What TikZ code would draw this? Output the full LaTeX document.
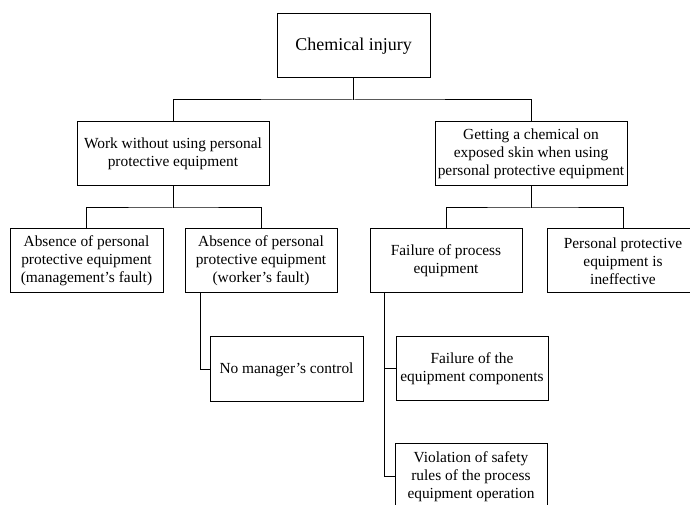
\documentclass[tikz,border=0pt]{standalone}
\usepackage{fontspec}
\setmainfont{Liberation Serif}
\begin{document}
\begin{tikzpicture}[x=1pt,y=1pt,
  box/.style={draw, line width=1pt, inner sep=0pt, align=center,
    font=\fontsize{15.4}{18}\selectfont},
  wire/.style={line width=1pt}]
\clip (0,0) rectangle (690,505);
\fill[white] (0,0) rectangle (690,505);
% boxes (y measured from top: 505 - y)
\node[box, minimum width=153pt, minimum height=64pt, font=\fontsize{18}{21}\selectfont] (top) at (353.5,459) {Chemical injury};
\node[box, minimum width=192pt, minimum height=64pt] (l2l) at (173,351) {Work without using personal\\protective equipment};
\node[box, minimum width=192pt, minimum height=64pt] (l2r) at (531,351) {Getting a chemical on\\exposed skin when using\\personal protective equipment};
\node[box, minimum width=153pt, minimum height=64pt] (l3a) at (86.5,244) {Absence of personal\\protective equipment\\(management’s fault)};
\node[box, minimum width=152pt, minimum height=64pt] (l3b) at (261,244) {Absence of personal\\protective equipment\\(worker’s fault)};
\node[box, minimum width=152pt, minimum height=64pt] (l3c) at (446,244) {Failure of process\\equipment};
\node[box, minimum width=152pt, minimum height=64pt] (l3d) at (623,244) {Personal protective\\equipment is\\ineffective};
\node[box, minimum width=153pt, minimum height=65pt] (nm) at (286.5,135.5) {No manager’s control};
\node[box, minimum width=152pt, minimum height=64pt] (fc) at (472,136) {Failure of the\\equipment components};
\node[box, minimum width=152pt, minimum height=65pt] (vi) at (471,28.5) {Violation of safety\\rules of the process\\equipment operation};
% junctions
\coordinate (j1) at (353.5,405);
\coordinate (j2) at (173,297);
\coordinate (j3) at (531,297);
\coordinate (k1) at ([xshift=-61pt]l3b.south);
\coordinate (k2) at ([xshift=-62pt]l3c.south);
% connectors
\draw[wire] (top.south) -- (j1);
\draw[wire] (l2l.north) |- (j1) -| (l2r.north);
\draw[wire] (l2l.south) -- (j2);
\draw[wire] (l3a.north) |- (j2) -| (l3b.north);
\draw[wire] (l2r.south) -- (j3);
\draw[wire] (l3c.north) |- (j3) -| (l3d.north);
\draw[wire] (k1) |- (nm.west);
\draw[wire] (k2) |- (fc.west);
\draw[wire] (k2) |- (vi.west);
\end{tikzpicture}
\end{document}
